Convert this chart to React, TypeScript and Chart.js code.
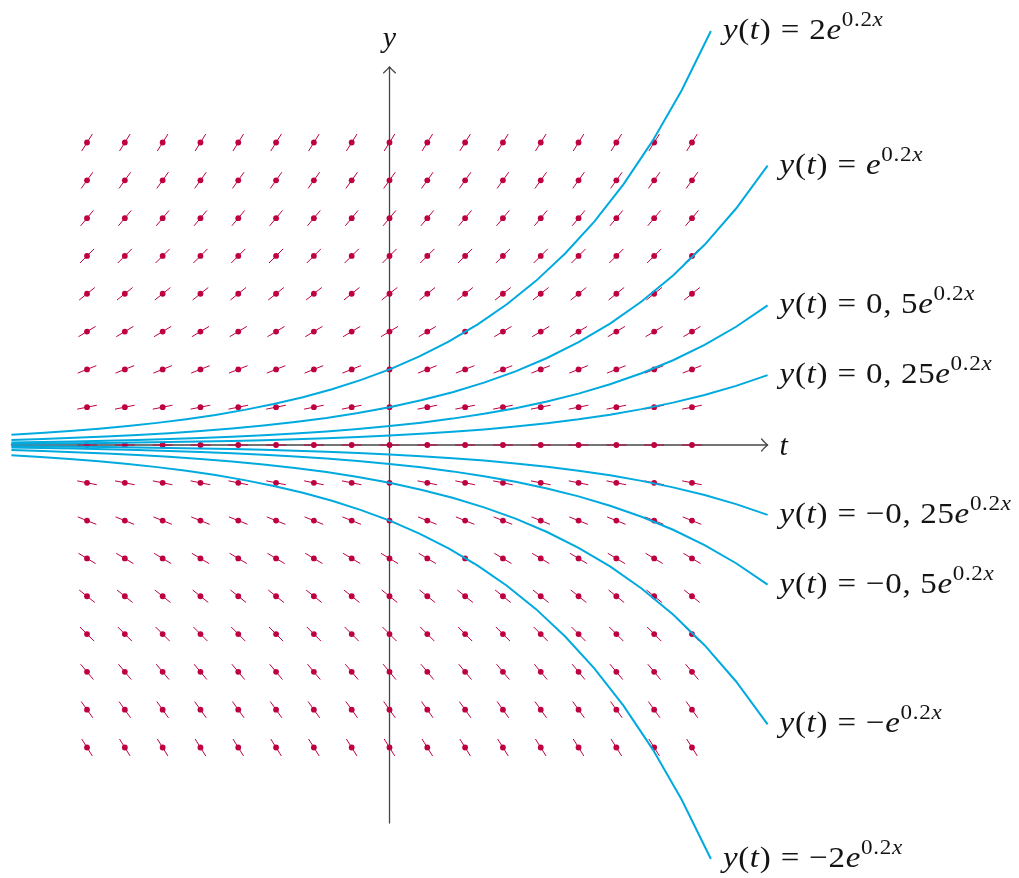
import { useEffect, useRef } from 'react';
import { Chart, registerables } from 'chart.js';

Chart.register(...registerables);

// Direction field for y' = 0.2·y on an integer lattice
const GRID_T = [-8, -7, -6, -5, -4, -3, -2, -1, 0, 1, 2, 3, 4, 5, 6, 7, 8];
const GRID_Y = [-8, -7, -6, -5, -4, -3, -2, -1, 0, 1, 2, 3, 4, 5, 6, 7, 8];
const RATE = 0.2;

// Particular solutions y(t) = C·e^{0.2x}
const COEFFS = [2, 1, 0.5, 0.25, -0.25, -0.5, -1, -2];
const COEFF_TEXT = ['2', '', '0, 5', '0, 25', '\u22120, 25', '\u22120, 5', '\u2212', '\u22122'];
const T_START = [-10, -10, -10, -10, -10, -10, -10, -10];
const T_END = [8.5, 10, 10, 10, 10, 10, 10, 8.5];
const SAMPLES = 25;

// Axis extents
const AXIS_T = [-10, 10];
const AXIS_Y = [-10, 10];

const W = 1019;
const H = 878;
const ORIGIN_X = 389.5;
const ORIGIN_Y = 445;
const UNIT = 37.81;

const FIELD_COLOR = '#bf0040';
const CURVE_COLOR = '#00aadf';
const AXIS_COLOR = '#474747';
const TEXT_COLOR = '#141414';
const FONT = '"Liberation Serif", "DejaVu Serif", serif';
const MAIN_SIZE = 30;
const SUP_SIZE = 21;
const STRETCH = 1.1;

type Piece = { text: string; italic?: boolean; sup?: boolean; gap?: number };

function labelPieces(i: number): Piece[] {
  return [
    { text: 'y', italic: true },
    { text: '(' },
    { text: 't', italic: true },
    { text: ')' },
    { text: '=', gap: 8.5 },
    { text: COEFF_TEXT[i] },
    { text: 'e', italic: true },
    { text: '0.2', sup: true },
    { text: 'x', sup: true, italic: true },
  ];
}

function drawRich(ctx: CanvasRenderingContext2D, pieces: Piece[], x: number, baseline: number) {
  ctx.save();
  ctx.translate(x, baseline);
  ctx.scale(STRETCH, 1);
  ctx.textBaseline = 'alphabetic';
  ctx.textAlign = 'left';
  (ctx as any).letterSpacing = '0.6px';
  let cx = 0;
  for (const p of pieces) {
    if (!p.text) continue;
    const size = p.sup ? SUP_SIZE : MAIN_SIZE;
    ctx.font = `${p.italic ? 'italic ' : ''}${size}px ${FONT}`;
    const y = p.sup ? -13 : 0;
    if (p.gap) cx += p.gap;
    ctx.fillText(p.text, cx, y);
    cx += ctx.measureText(p.text).width;
    if (p.gap) cx += p.gap;
  }
  ctx.restore();
}

export default function App() {
  const canvasRef = useRef<HTMLCanvasElement | null>(null);

  useEffect(() => {
    const canvas = canvasRef.current;
    if (!canvas) return;

    const fieldPoints: { x: number; y: number }[] = [];
    const rotations: number[] = [];
    for (const t of GRID_T) {
      for (const y of GRID_Y) {
        fieldPoints.push({ x: t, y });
        rotations.push((-Math.atan(RATE * y) * 180) / Math.PI);
      }
    }

    const curveSets = COEFFS.map((c, i) => {
      const pts: { x: number; y: number }[] = [];
      const a = T_START[i];
      const b = T_END[i];
      for (let k = 0; k < SAMPLES; k++) {
        const t = a + ((b - a) * k) / (SAMPLES - 1);
        pts.push({ x: t, y: c * Math.exp(RATE * t) });
      }
      return {
        type: 'line' as const,
        data: pts,
        showLine: true,
        borderColor: CURVE_COLOR,
        borderWidth: 2,
        pointRadius: 0,
        tension: 0,
        fill: false,
        order: 0,
      };
    });

    const axesPlugin = {
      id: 'axes',
      beforeDatasetsDraw(chart: any) {
        const { ctx, scales } = chart;
        const xs = scales.x;
        const ys = scales.y;
        const x0 = xs.getPixelForValue(0);
        const y0 = ys.getPixelForValue(0);
        const tl = xs.getPixelForValue(AXIS_T[0]);
        const tr = xs.getPixelForValue(AXIS_T[1]);
        const yb = ys.getPixelForValue(AXIS_Y[0]);
        const yt = ys.getPixelForValue(AXIS_Y[1]);
        ctx.save();
        ctx.strokeStyle = AXIS_COLOR;
        ctx.lineWidth = 1.3;
        ctx.lineCap = 'round';
        ctx.lineJoin = 'round';
        ctx.beginPath();
        ctx.moveTo(tl, y0);
        ctx.lineTo(tr, y0);
        ctx.moveTo(x0, yb);
        ctx.lineTo(x0, yt);
        ctx.stroke();
        // arrow heads
        ctx.beginPath();
        ctx.moveTo(tr - 6, y0 - 6);
        ctx.quadraticCurveTo(tr - 2, y0 - 1.5, tr, y0);
        ctx.quadraticCurveTo(tr - 2, y0 + 1.5, tr - 6, y0 + 6);
        ctx.moveTo(x0 - 6, yt + 6);
        ctx.quadraticCurveTo(x0 - 1.5, yt + 2, x0, yt);
        ctx.quadraticCurveTo(x0 + 1.5, yt + 2, x0 + 6, yt + 6);
        ctx.stroke();
        ctx.restore();
      },
      afterDraw(chart: any) {
        const { ctx, scales } = chart;
        const xs = scales.x;
        const ys = scales.y;
        ctx.save();
        ctx.fillStyle = TEXT_COLOR;
        ctx.font = `italic ${MAIN_SIZE}px ${FONT}`;
        ctx.textAlign = 'center';
        ctx.textBaseline = 'alphabetic';
        ctx.fillText('y', xs.getPixelForValue(0), ys.getPixelForValue(AXIS_Y[1]) - 20);
        ctx.textAlign = 'left';
        ctx.fillText('t', xs.getPixelForValue(AXIS_T[1]) + 12, ys.getPixelForValue(0) + 10);
        COEFFS.forEach((c, i) => {
          const tEnd = T_END[i];
          const px = xs.getPixelForValue(tEnd);
          const py = ys.getPixelForValue(c * Math.exp(RATE * tEnd));
          drawRich(ctx, labelPieces(i), px + 12, py + 8);
        });
        ctx.restore();
      },
    };

    const chart = new Chart(canvas, {
      type: 'scatter',
      data: {
        datasets: [
          ...curveSets,
          {
            type: 'scatter' as const,
            data: fieldPoints,
            pointStyle: 'circle',
            pointRadius: 2.9,
            pointBackgroundColor: FIELD_COLOR,
            pointBorderWidth: 0,
            order: 1,
          },
          {
            type: 'scatter' as const,
            data: fieldPoints,
            pointStyle: 'line',
            pointRadius: 10,
            pointRotation: rotations,
            pointBorderColor: FIELD_COLOR,
            pointBorderWidth: 1,
            order: 2,
          },
        ] as any,
      },
      options: {
        responsive: false,
        animation: false,
        devicePixelRatio: 1,
        layout: { padding: 0, autoPadding: false },
        events: [],
        plugins: {
          legend: { display: false },
          tooltip: { enabled: false },
        },
        scales: {
          x: {
            type: 'linear',
            display: false,
            min: -ORIGIN_X / UNIT,
            max: (W - ORIGIN_X) / UNIT,
          },
          y: {
            type: 'linear',
            display: false,
            min: -(H - ORIGIN_Y) / UNIT,
            max: ORIGIN_Y / UNIT,
          },
        },
      },
      plugins: [axesPlugin],
    });

    return () => chart.destroy();
  }, []);

  return (
    <div style={{ position: 'fixed', left: 0, top: 0, width: W, height: H, background: '#fff' }}>
      <canvas ref={canvasRef} width={W} height={H} style={{ display: 'block' }} />
    </div>
  );
}
